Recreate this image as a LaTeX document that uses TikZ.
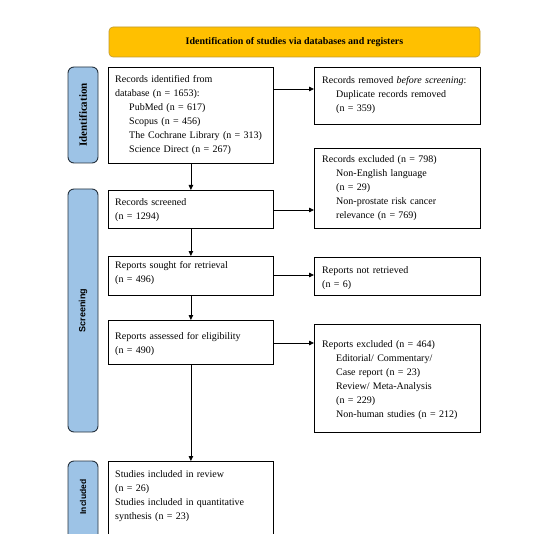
\documentclass[tikz,border=0pt]{standalone}
\usepackage{fontspec}
\setmainfont{Liberation Serif}
\newfontfamily\sidesans{Liberation Sans}
\usetikzlibrary{arrows.meta}
\definecolor{bannerfill}{HTML}{FFC000}
\definecolor{bannerline}{HTML}{C09A30}
\definecolor{barfill}{HTML}{9DC3E6}
\definecolor{barline}{HTML}{26323E}
\tikzset{
  box/.style={draw=black, line width=0.8pt, inner sep=0pt, anchor=north west, minimum width=165pt},
  rbox/.style={draw=black, line width=0.8pt, inner sep=0pt, anchor=north west, minimum width=166pt},
  txt/.style={inner sep=0pt, anchor=base west, align=left, text width=160pt, font=\fontsize{10}{14}\selectfont},
  sidebar/.style={draw=barline, fill=barfill, line width=0.9pt, rounded corners=6pt, inner sep=0pt},
  sidelabel/.style={rotate=90, inner sep=0pt},
  arr/.style={line width=0.8pt, -{Triangle[length=5pt,width=4.5pt]}},
  ln/.style={line width=0.8pt}
}
\newcommand{\ind}{\hspace*{14pt}}
\begin{document}
\begin{tikzpicture}[x=1pt,y=-1pt]
\useasboundingbox (0,0) rectangle (534,534);
\clip (0,0) rectangle (534,534);
% banner
\node[draw=bannerline, fill=bannerfill, line width=0.6pt, rounded corners=4pt, minimum width=371pt, minimum height=30pt, inner sep=0pt, font=\bfseries\fontsize{10}{12}\selectfont] (ban) at (294.5,42) {Identification of studies via databases and registers};
% side bars
\node[sidebar, rotate=90, minimum width=96pt, minimum height=30pt, font=\bfseries\fontsize{11}{13}\selectfont] (idbar) at (83,115) {Identification};
\node[sidebar, rotate=90, minimum width=243pt, minimum height=30pt, font=\sidesans\bfseries\fontsize{9}{11}\selectfont] (scbar) at (83,310.5) {Screening};
\node[sidebar, rotate=90, minimum width=100pt, minimum height=30pt] (inbar) at (83,511) {};
\node[sidelabel, font=\sidesans\bfseries\fontsize{8.5}{10}\selectfont] (inlab) at (83,497) {Included};
% left boxes
\node[box, minimum height=96pt] (A) at (108,67) {};
\node[txt] (At) at (115,83) {Records identified from\\database (n = 1653):\\\ind PubMed (n = 617)\\\ind Scopus (n = 456)\\\ind The Cochrane Library (n = 313)\\\ind Science Direct (n = 267)};
\node[box, minimum height=38pt] (B) at (108,190) {};
\node[txt] (Bt) at (115,206) {Records screened\\(n = 1294)};
\node[box, minimum height=39pt] (C) at (108,256) {};
\node[txt] (Ct) at (115,268) {Reports sought for retrieval\\(n = 496)};
\node[box, minimum height=44pt] (D) at (108,320) {};
\node[txt] (Dt) at (115,339) {Reports assessed for eligibility\\(n = 490)};
\node[box, minimum height=90pt] (E) at (108,461) {};
\node[txt] (Et) at (115,477) {Studies included in review\\(n = 26)\\Studies included in quantitative\\synthesis (n = 23)};
% right boxes
\node[rbox, minimum height=57pt] (R1) at (314,67) {};
\node[txt] (R1t) at (322,84) {Records removed \emph{before screening}:\\\ind Duplicate records removed\\\ind (n = 359)};
\node[rbox, minimum height=80pt] (R2) at (314,148) {};
\node[txt] (R2t) at (322,163) {Records excluded (n = 798)\\\ind Non-English language\\\ind (n = 29)\\\ind Non-prostate risk cancer\\\ind relevance (n = 769)};
\node[rbox, minimum height=38pt] (R3) at (314,257) {};
\node[txt] (R3t) at (322,273) {Reports not retrieved\\(n = 6)};
\node[rbox, minimum height=108pt] (R4) at (314,324) {};
\node[txt] (R4t) at (322,347) {Reports excluded (n = 464)\\\ind Editorial/ Commentary/\\\ind Case report (n = 23)\\\ind Review/ Meta-Analysis\\\ind (n = 229)\\\ind Non-human studies (n = 212)};
% arrow levels
\coordinate (y1) at (0,89);
\coordinate (y2) at (0,210);
\coordinate (y3) at (0,275);
\coordinate (y4) at (0,343);
% connectors
\draw[arr] (A.east |- y1) -- (R1.west |- y1);
\draw[arr] (B.east |- y2) -- (R2.west |- y2);
\draw[arr] (C.east |- y3) -- (R3.west |- y3);
\draw[arr] (D.east |- y4) -- (R4.west |- y4);
\draw[arr] (A.south) -- (B.north);
\draw[arr] (B.south) -- (C.north);
\draw[arr] (C.south) -- (D.north);
\draw[arr] (D.south) -- (E.north);
\end{tikzpicture}
\end{document}
